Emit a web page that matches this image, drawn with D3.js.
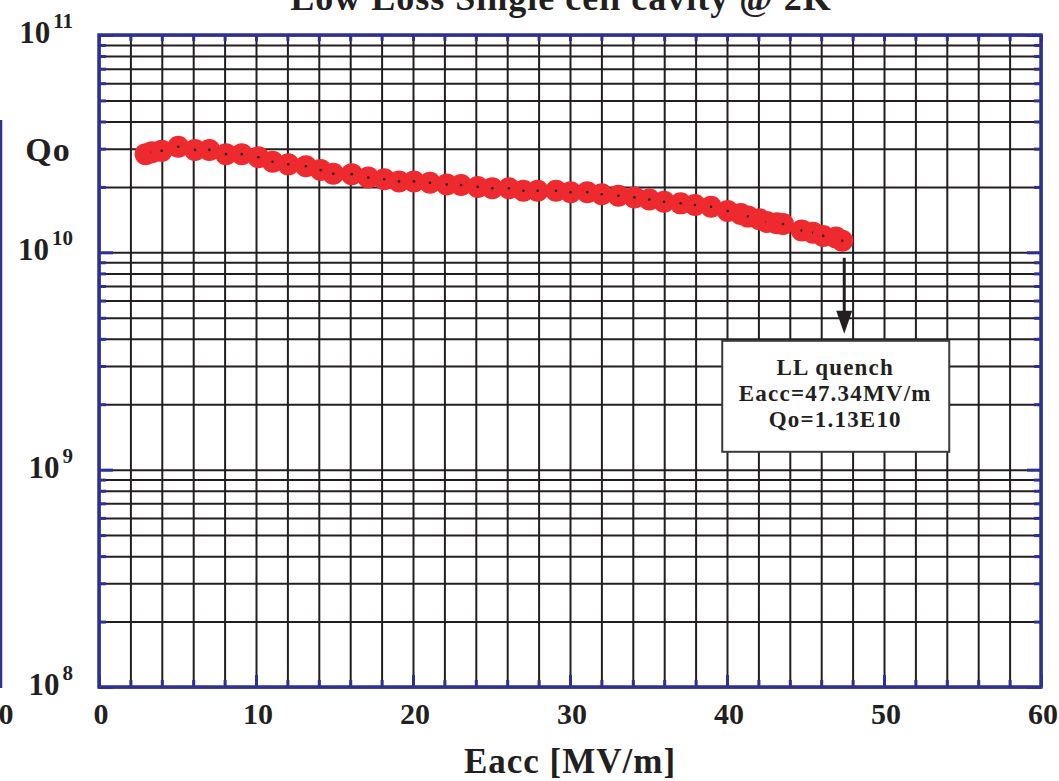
<!DOCTYPE html>
<html>
<head>
<meta charset="utf-8">
<script src="https://cdn.jsdelivr.net/npm/d3@7"></script>
<style>
  body { margin: 0; background: #fff; }
  svg text { font-family: "Liberation Serif", "Times New Roman", serif; font-weight: bold; fill: #231f20; }
</style>
</head>
<body>
<script>
// Eacc [MV/m] vs Qo
var eacc = [2.97, 3.36, 3.99, 5.05, 6.11, 7.03, 8.09, 9.09, 10.15, 11.06,
            12.06, 13.18, 14.12, 14.92, 16.10, 17.15, 18.17, 19.11, 20.06, 21.08,
            22.15, 23.06, 24.12, 25.05, 26.11, 27.03, 27.94, 29.11, 30.04, 31.10,
            32.02, 33.08, 34.10, 35.05, 35.99, 37.05, 37.96, 38.98, 40.04, 40.87,
            41.34, 42.06, 42.53, 43.17, 43.57, 44.76, 45.48, 46.13, 46.94, 47.34];
var qo = [2.83e10, 2.89e10, 2.93e10, 3.06e10, 2.96e10, 2.96e10, 2.83e10, 2.83e10, 2.74e10, 2.61e10,
          2.54e10, 2.49e10, 2.39e10, 2.30e10, 2.29e10, 2.21e10, 2.17e10, 2.12e10, 2.12e10, 2.09e10,
          2.05e10, 2.04e10, 2.00e10, 1.97e10, 1.97e10, 1.92e10, 1.92e10, 1.92e10, 1.89e10, 1.89e10,
          1.85e10, 1.82e10, 1.79e10, 1.75e10, 1.71e10, 1.68e10, 1.65e10, 1.62e10, 1.55e10, 1.50e10,
          1.46e10, 1.42e10, 1.38e10, 1.36e10, 1.35e10, 1.26e10, 1.23e10, 1.19e10, 1.17e10, 1.13e10];

var xTickLabels = [0, 10, 20, 30, 40, 50, 60];
var yDecades = [1e8, 1e9, 1e10, 1e11];
var yExponents = ["8", "9", "10", "11"];
var quench = {eacc: 47.34, qo: 1.13e10, lines: ["LL quench", "Eacc=47.34MV/m", "Qo=1.13E10"]};
var title = "Low Loss  Single cell cavity @ 2K";

var window_w = 1059, window_h = 781;
var margin = {left: 99, top: 35, right: 18, bottom: 94};
var frame_w = window_w - margin.left - margin.right;
var frame_h = window_h - margin.top - margin.bottom;

var blue = "#2e3192", ink = "#231f20", red = "#ee2a2e";

var xScale = d3.scaleLinear().domain([0, 60]).range([0, frame_w]);
var yScale = d3.scaleLog().domain([1e8, 1e11]).range([frame_h, 0]);

var xMinor = d3.range(0, 61, 2);
var yMinor = [];
yDecades.forEach(function (d) { for (var k = 1; k < 10; k++) { if (d * k <= 1e11) yMinor.push(d * k); } });

var svg = d3.select("body").append("svg")
    .attr("width", window_w)
    .attr("height", window_h);

var g = svg.append("g").attr("transform", "translate(" + margin.left + "," + margin.top + ")");

// grid
g.append("g").attr("class", "xgrid")
    .attr("transform", "translate(0," + frame_h + ")")
    .call(d3.axisBottom(xScale).tickValues(xMinor).tickSize(-frame_h).tickFormat(""));
g.append("g").attr("class", "ygrid")
    .call(d3.axisLeft(yScale).tickValues(yMinor).tickSize(-frame_w).tickFormat(""));
g.selectAll(".xgrid line, .ygrid line").attr("stroke", ink).attr("stroke-width", 2);
g.selectAll(".xgrid .domain, .ygrid .domain").remove();

// blue frame ticks (pointing inward)
function isDecade(v) { return Math.abs(Math.log10(v) - Math.round(Math.log10(v))) < 1e-9; }
function frameAxis(axis, tr, cls) {
  var a = g.append("g").attr("class", cls).attr("transform", tr).call(axis);
  a.selectAll("text").remove();
  a.select(".domain").remove();
  a.selectAll("line").attr("stroke", blue).attr("stroke-width", 3);
  return a;
}
frameAxis(d3.axisLeft(yScale).tickValues(yMinor).tickFormat("").tickSizeInner(-7).tickSizeOuter(0), "translate(0,0)", "yl")
    .selectAll(".tick line").attr("x2", function (d) { return isDecade(d) ? 14 : 7; });
frameAxis(d3.axisRight(yScale).tickValues(yMinor).tickFormat("").tickSizeInner(-7).tickSizeOuter(0), "translate(" + frame_w + ",0)", "yr")
    .selectAll(".tick line").attr("x2", function (d) { return isDecade(d) ? -14 : -7; });
frameAxis(d3.axisBottom(xScale).tickValues(xMinor).tickFormat("").tickSizeInner(-7).tickSizeOuter(0), "translate(0," + frame_h + ")", "xb")
    .selectAll(".tick line").attr("y2", function (d) { return d % 10 === 0 ? -12 : -7; });
frameAxis(d3.axisTop(xScale).tickValues(xMinor).tickFormat("").tickSizeInner(-6).tickSizeOuter(0), "translate(0,0)", "xt")
    .selectAll(".tick line").attr("y2", 6);

g.append("rect")
    .attr("width", frame_w).attr("height", frame_h)
    .attr("fill", "none").attr("stroke", blue).attr("stroke-width", 3.5);

// x tick labels
g.selectAll(".xlab").data(xTickLabels).enter().append("text")
    .attr("class", "xlab")
    .attr("x", d => xScale(d) + 2)
    .attr("y", frame_h + 37)
    .attr("text-anchor", "middle")
    .attr("font-size", 30)
    .text(d => d);

// y tick labels (10 with superscript)
var ylab = g.selectAll(".ylab").data(yDecades).enter().append("text")
    .attr("class", "ylab")
    .attr("x", -26)
    .attr("y", d => yScale(d) + 8)
    .attr("text-anchor", "end");
ylab.append("tspan").attr("font-size", 31).text("10");
ylab.append("tspan").attr("font-size", 21).attr("dx", 3).attr("dy", -15).text((d, i) => yExponents[i]);

// axis titles
svg.append("text")
    .attr("x", 48).attr("y", 161)
    .attr("text-anchor", "middle")
    .attr("font-size", 34)
    .attr("letter-spacing", 1)
    .text("Qo");
svg.append("text")
    .attr("x", margin.left + xScale(30)).attr("y", 773)
    .attr("text-anchor", "middle")
    .attr("font-size", 35)
    .attr("letter-spacing", 1)
    .text("Eacc [MV/m]");
svg.append("text")
    .attr("x", 561).attr("y", 10)
    .attr("text-anchor", "middle")
    .attr("font-size", 36)
    .attr("letter-spacing", 1)
    .text(title);

// stray edge of a neighbouring panel
svg.append("line").attr("x1", 1).attr("x2", 1).attr("y1", 120).attr("y2", 688)
    .attr("stroke", blue).attr("stroke-width", 2.5);
svg.append("text").attr("x", 6).attr("y", 724).attr("text-anchor", "middle")
    .attr("font-size", 30).text("0");

// data
var pts = g.selectAll(".pt").data(eacc).enter().append("g")
    .attr("class", "pt")
    .attr("transform", (d, i) => "translate(" + xScale(d) + "," + yScale(qo[i]) + ")");
pts.append("circle").attr("r", 11).attr("fill", red);
pts.append("circle").attr("r", 1.3).attr("fill", ink);

// quench annotation
var qx = xScale(quench.eacc), qy = yScale(quench.qo);
g.append("line")
    .attr("x1", qx + 2).attr("x2", qx + 2)
    .attr("y1", qy + 17).attr("y2", qy + 75)
    .attr("stroke", ink).attr("stroke-width", 3);
g.append("path")
    .attr("d", "M" + (qx - 6) + "," + (qy + 70) + "L" + (qx + 10) + "," + (qy + 70) + "L" + (qx + 2) + "," + (qy + 93) + "Z")
    .attr("fill", ink);

var box = g.append("g").attr("transform", "translate(" + (qx - 120) + "," + (qy + 100) + ")");
box.append("rect")
    .attr("width", 227).attr("height", 111)
    .attr("fill", "#fff").attr("stroke", "#3a3a3a").attr("stroke-width", 2);
box.selectAll("text").data(quench.lines).enter().append("text")
    .attr("x", 113)
    .attr("y", (d, i) => 34 + i * 26)
    .attr("text-anchor", "middle")
    .attr("font-size", 23)
    .attr("letter-spacing", 1.2)
    .text(d => d);
</script>
</body>
</html>
